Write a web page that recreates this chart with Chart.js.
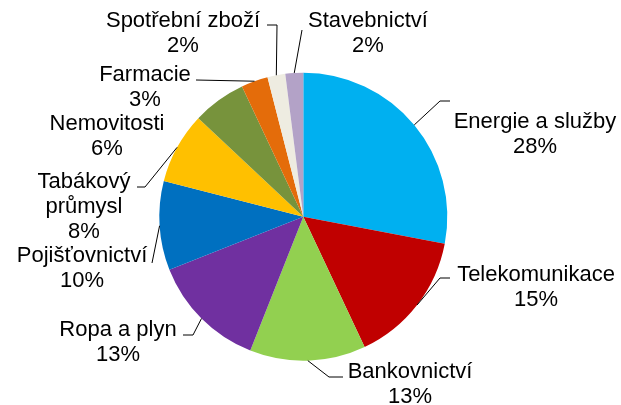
<!DOCTYPE html>
<html>
<head>
<meta charset="utf-8">
<script src="https://cdn.jsdelivr.net/npm/chart.js@4"></script>
<style>
  html, body { margin: 0; padding: 0; background: #fff; }
  canvas { display: block; }
</style>
</head>
<body>
<canvas id="graf" width="621" height="405"></canvas>
<script>
// Sektory a jejich podíly (%)
const sektory = ['Energie a služby', 'Telekomunikace', 'Bankovnictví', 'Ropa a plyn', 'Pojišťovnictví',
    'Tabákový průmysl', 'Nemovitosti', 'Farmacie', 'Spotřební zboží', 'Stavebnictví'];
const podily = [28, 15, 13, 13, 10, 8, 6, 3, 2, 2];
const barvy = ['#00B0F0', '#C00000', '#92D050', '#7030A0', '#0070C0',
    '#FFC000', '#77933C', '#E46C0A', '#EEECE1', '#B3A2C7'];

// Popisky: řádky textu, střed x, první účaří y, body vodicí čáry (od okraje výseče)
const popisky = [
    { radky: ['Energie a služby'], x: 535, y: 128, cara: [[440, 101], [450, 101]] },
    { radky: ['Telekomunikace'], x: 536, y: 281, cara: [[440, 278], [450, 278]] },
    { radky: ['Bankovnictví'], x: 410, y: 378, cara: [[329, 377], [343, 377]] },
    { radky: ['Ropa a plyn'], x: 118, y: 336, cara: [[193, 335], [183, 335]] },
    { radky: ['Pojišťovnictví'], x: 82, y: 262, cara: [[152, 263]] },
    { radky: ['Tabákový', 'průmysl'], x: 84, y: 188, cara: [[145, 187], [137, 187]] },
    { radky: ['Nemovitosti'], x: 107, y: 130, cara: [] },
    { radky: ['Farmacie'], x: 145, y: 81, cara: [[196, 80]] },
    { radky: ['Spotřební zboží'], x: 183, y: 27, cara: [[277, 25], [267, 25]] },
    { radky: ['Stavebnictví'], x: 368, y: 27, cara: [[302, 30]] }
];

const popiskyPlugin = {
    id: 'popisky',
    afterDraw(chart) {
        const ctx = chart.ctx;
        const oblouky = chart.getDatasetMeta(0).data;
        ctx.save();
        ctx.strokeStyle = '#000';
        ctx.lineWidth = 1;
        ctx.fillStyle = '#000';
        ctx.font = '22px "Liberation Sans", Arial, sans-serif';
        ctx.textAlign = 'center';
        ctx.textBaseline = 'alphabetic';
        popisky.forEach((p, i) => {
            const a = oblouky[i];
            const stred = (a.startAngle + a.endAngle) / 2;
            if (p.cara.length) {
                ctx.beginPath();
                ctx.moveTo(a.x + Math.cos(stred) * a.outerRadius, a.y + Math.sin(stred) * a.outerRadius);
                p.cara.forEach(b => ctx.lineTo(b[0], b[1]));
                ctx.stroke();
            }
            const radky = p.radky.concat([podily[i] + '%']);
            radky.forEach((t, j) => ctx.fillText(t, p.x, p.y + j * 25));
        });
        ctx.restore();
    }
};

new Chart(document.getElementById('graf').getContext('2d'), {
    type: 'pie',
    data: {
        labels: sektory,
        datasets: [{
            data: podily,
            backgroundColor: barvy,
            borderWidth: 0
        }]
    },
    options: {
        responsive: false,
        animation: false,
        layout: {
            padding: { top: 72.7, bottom: 44.3, left: 159.3, right: 173.7 }
        },
        plugins: {
            legend: { display: false },
            tooltip: { enabled: false }
        }
    },
    plugins: [popiskyPlugin]
});
</script>
</body>
</html>
